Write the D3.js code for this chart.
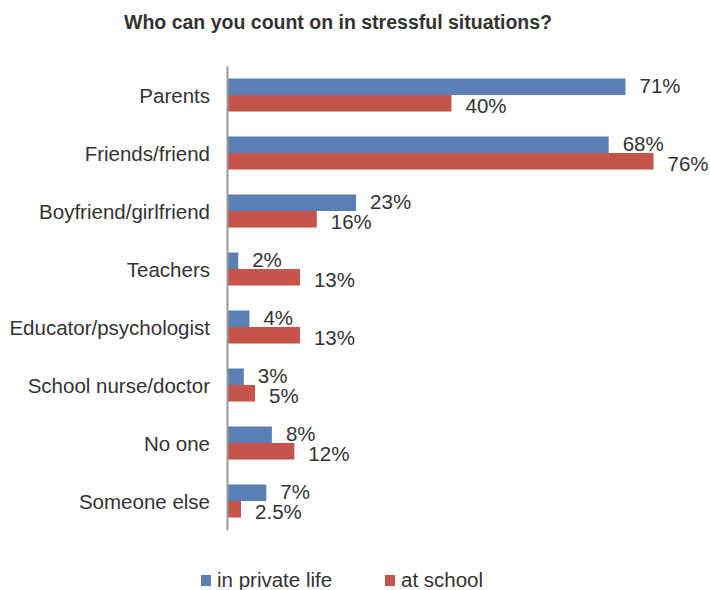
<!DOCTYPE html>
<html>
<head>
<meta charset="utf-8">
<script src="https://cdn.jsdelivr.net/npm/d3@7"></script>
<style>
  body { margin: 0; background: #fff; }
  svg text { font-family: "Liberation Sans", Arial, sans-serif; fill: #333; }
</style>
</head>
<body>
<svg id="chart" width="710" height="590"></svg>
<script>
// data
var categories = ["Parents", "Friends/friend", "Boyfriend/girlfriend", "Teachers",
                  "Educator/psychologist", "School nurse/doctor", "No one", "Someone else"];
var seriesNames = ["in private life", "at school"];
var privateLife = [71, 68, 23, 2, 4, 3, 8, 7];
var atSchool = [40, 76, 16, 13, 13, 5, 12, 2.5];
var valueLabels = [
  ["71%", "68%", "23%", "2%", "4%", "3%", "8%", "7%"],
  ["40%", "76%", "16%", "13%", "13%", "5%", "12%", "2.5%"]
];
var colors = ["#5a7fb5", "#c5554b"];

var svg = d3.select("#chart");
var fs = "20.5px";

// title
svg.append("text")
  .attr("x", 338).attr("y", 29)
  .attr("text-anchor", "middle")
  .style("font-size", "19.5px").style("font-weight", "bold")
  .text("Who can you count on in stressful situations?");

var x = d3.scaleLinear().domain([0, 80]).range([227, 227 + 449]);
var y = d3.scaleBand().domain(categories).range([66, 530])
  .paddingInner(0.43).paddingOuter(0.215);
var ySub = d3.scaleBand().domain([0, 1]).range([0, y.bandwidth()]);

var rows = categories.map(function(c, i) {
  return { cat: c, vals: [privateLife[i], atSchool[i]], labels: [valueLabels[0][i], valueLabels[1][i]] };
});

var g = svg.selectAll(".cat").data(rows).enter().append("g")
  .attr("class", "cat")
  .attr("transform", function(d) { return "translate(0," + y(d.cat) + ")"; });

g.selectAll("rect").data(function(d) { return d.vals; }).enter().append("rect")
  .attr("x", x(0))
  .attr("y", function(d, i) { return ySub(i); })
  .attr("width", function(d) { return x(d) - x(0); })
  .attr("height", ySub.bandwidth())
  .attr("fill", function(d, i) { return colors[i]; });

//подписи значений
g.each(function(d) {
  var sel = d3.select(this);
  d.vals.forEach(function(v, i) {
    sel.append("text")
      .attr("x", x(v) + 14)
      .attr("y", ySub(i) + ySub.bandwidth() / 2 + (i === 0 ? 6 : 10))
      .style("font-size", fs)
      .text(d.labels[i]);
  });
});

// category axis
var axis = d3.axisLeft(y).tickSize(0).tickPadding(17);
var ax = svg.append("g").attr("transform", "translate(" + x(0) + ",0)").call(axis);
ax.select(".domain").attr("stroke", "#999").attr("stroke-width", 2);
ax.selectAll(".tick text")
  .attr("dy", null).attr("y", 7.5)
  .style("font-size", fs)
  .style("font-family", "'Liberation Sans', Arial, sans-serif")
  .attr("fill", "#333");

// legend
var legendX = [201, 385];
var lg = svg.selectAll(".leg").data(seriesNames).enter().append("g")
  .attr("class", "leg")
  .attr("transform", function(d, i) { return "translate(" + legendX[i] + ",575)"; });
lg.append("rect").attr("width", 10).attr("height", 11)
  .attr("fill", function(d, i) { return colors[i]; });
lg.append("text").attr("x", 16).attr("y", 12)
  .style("font-size", fs)
  .text(function(d) { return d; });
</script>
</body>
</html>
